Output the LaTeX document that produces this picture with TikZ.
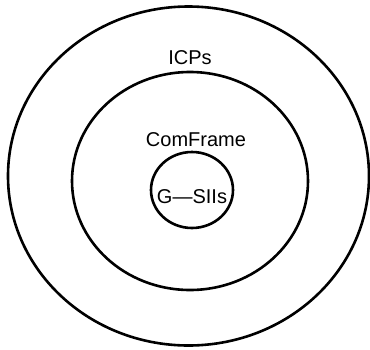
\documentclass[tikz,border=0pt]{standalone}
\usepackage{fontspec}
\setmainfont{Liberation Sans}
\begin{document}
\begin{tikzpicture}[x=1pt,y=-1pt,
  ring/.style={draw=black,line width=2.6pt},
  lbl/.style={font=\fontsize{20}{20}\selectfont,inner sep=0pt}]
\useasboundingbox (0,0) rectangle (370,349);
\draw[ring] (188.5,176) ellipse [x radius=180.5,y radius=169.5];
\draw[ring] (190,181) ellipse [x radius=118,y radius=109];
\draw[ring] (192,190) ellipse [x radius=41,y radius=38];
\node[lbl] (icp) at (190,58) {ICPs};
\node[lbl] (com) at (196,140) {ComFrame};
\node[lbl] (gsii) at (192,197) {G—SIIs};
\end{tikzpicture}
\end{document}
